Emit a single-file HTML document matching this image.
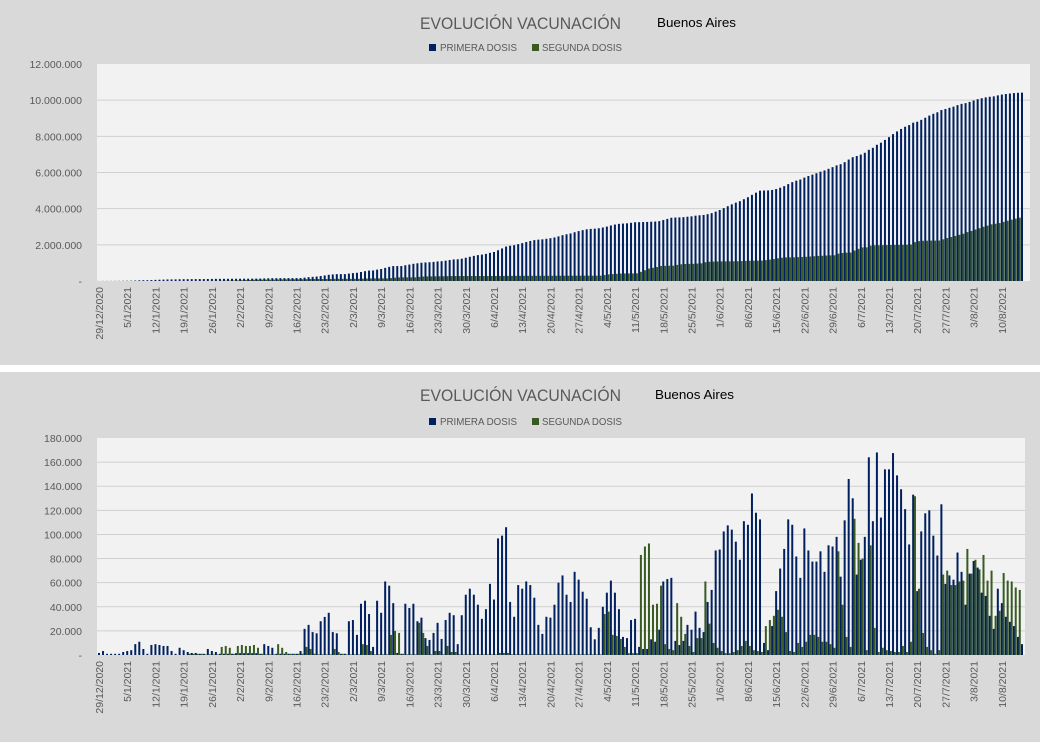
<!DOCTYPE html>
<html><head><meta charset="utf-8"><style>
html,body{margin:0;padding:0;background:#fff;}
svg{display:block;font-family:"Liberation Sans",sans-serif;}
</style></head><body>
<svg id="svg" width="1044" height="742" viewBox="0 0 1044 742"></svg>
<script>
// Daily doses (thousands), 29/12/2020 .. 15/8/2021
const primeraDaily=[1.7,3.3,1,1,1,1,2.5,3.3,4,9,11,5,1,8.3,9,8.3,7.5,7.5,3.3,1,6,4,2.5,1.7,1.7,1,1,5,3.3,2.5,
1,1,1,1,1.5,1.5,1.5,1.5,1.5,1.5,1,9,7.5,6,1,1,1,1,1,1,3.3,21.7,25,19,18,28,31.6,35,
19,18,1,1,28,29,16.7,42.5,45,34,6.7,45,35,61,57.5,43,1.7,1,42.5,39,42.5,28,31,14,12.5,18.3,26.7,13.3,29,35,33,9,33,50,55,50,41.7,30,38,59,46,96.7,99,106,44,31.7,58,55,61,58,47.5,25,17.5,31.7,31,41.7,60,
66,50,44,69,62.5,52.5,46.7,23,13,22.5,40,51.7,61.7,51.7,38,15,14,29,30,6.7,5,5,13,11,21,61,63,64,11.7,8.3,11.7,25,21,36,22.5,19,44,54,86.7,87.5,102.5,107.5,104,94,79,111,108,134,118,112.5,10,4,24,53,71.7,88,112.5,
108,81.7,64,105,86.7,77.5,77.5,86,69,91,90,98,65,111.7,146,130,66.7,79,98,164,111,168,114,154,154,167.5,149,137.5,121,91.7,133,53,102.5,117.5,120,99,82.5,125,59,66,62.5,85,69,41.7,67.5,78,72.5,51.7,49,32.5,21.7,55,43,31.7,27.5,24,15,9];
const segundaDaily=[0,0,0,0,0,0,0,0,0,0,0,0,0,0,0,0,0,0,0,0,0,0,1,1,1,1,0.5,0.5,0.5,0.5,
6.7,7.5,6,1,7.5,8.3,7.5,7.5,8.3,6,1,0.5,0.5,0.5,9,6,2.5,1,1,1,1,6.7,5,1,0.5,0.5,0.5,0.5,
5,2.5,1,0.5,0.5,0.5,0.5,9,8.3,3.3,0.5,0.5,0.5,0.5,16.7,20,18.3,1,0.5,0.5,0.5,26.7,18.3,7.5,0.5,3.3,3.3,0.5,7.5,2.5,2.5,0.5,0.5,0.5,0.5,0.5,0.5,0.5,0.5,0.5,0.5,1.7,1.7,1.7,0.5,0.5,0.5,0.5,0.5,0.5,0.5,0.5,0.5,0.5,0.5,0.5,0.5,
0.5,0.5,0.5,0.5,0.5,0.5,0.5,0.5,0.5,0.5,34,36,16.7,15.8,13.3,6.7,1.5,1.5,1.5,83,90,92.5,41.7,42.5,57.5,9,5,4,43,31.7,17.5,7.5,2.5,14,14,61,26,10,6,3.3,1.5,1.5,2.5,4,7.5,11.7,7.5,4,3.3,2.5,24,29,32.5,37.5,31.7,19,
3.3,2.5,10,6.7,11,16.7,16.7,15,11,11,9,6,86,41.7,15,6.7,113,93,80,4,91,22.5,2.5,6,4,3.3,2.5,2.5,7.5,2.5,11,131.7,55,18.3,6.7,4,1,4,66.7,70,58,58,61,61.7,88,67.5,79,71,83,61.7,70,32.5,36.7,68,61.7,61,56,54];
const yTicksDaily=["180.000","160.000","140.000","120.000","100.000","80.000","60.000","40.000","20.000","-"];
const yTicksCum=["12.000.000","10.000.000","8.000.000","6.000.000","4.000.000","2.000.000","-"];
const startDate=[2020,11,29];

const NS="http://www.w3.org/2000/svg";
const svg=document.getElementById('svg');
function mk(tag,attrs,parent){const e=document.createElementNS(NS,tag);for(const k in attrs)e.setAttribute(k,attrs[k]);(parent||svg).appendChild(e);return e;}
const N=primeraDaily.length;
const cumP=[],cumS=[];let a=0,b=0;
for(let i=0;i<N;i++){a+=primeraDaily[i]*1000;b+=segundaDaily[i]*1000;cumP.push(a);cumS.push(b);}
const labels=[];
for(let i=0;i<N;i++){const d=new Date(startDate[0],startDate[1],startDate[2]+i);labels.push(d.getDate()+"/"+(d.getMonth()+1)+"/"+d.getFullYear());}

function chart(o){
  const g=mk('g',{});
  
  
  const bg=mk('rect',{x:0,y:o.py,width:1040,height:o.ph,fill:'#d9d9d9'},g);
  
  
  const pa=mk('rect',{x:97,y:o.top,width:o.right-97,height:o.base-o.top,fill:'#f2f2f2'},g);
  
  
  const yv=v=>o.base-(v/o.max)*(o.base-o.top);
  const xv=i=>99+i*(1022-99)/(N-1);
  const nt=o.ticks.length;
  o.ticks.forEach((t,k)=>{
    const y=o.top+k*(o.base-o.top)/(nt-1);
    if(k>0&&k<nt-1){const l=mk('line',{x1:97,x2:o.right,y1:y,y2:y,stroke:'#d0d0d0','stroke-width':1},g);
      
      }
    const tx=mk('text',{x:82,y:y+4,'text-anchor':'end','font-size':10.5,fill:'#595959'},g);
    tx.textContent=t;
    
    
  });
  for(let i=0;i<N;i++){
    const vp=o.p[i],vs=o.s[i];
    const r1=mk('rect',{x:xv(i)-1,y:yv(vp),width:2,height:o.base-yv(vp),fill:'#002060'},g);
    
    
    const r2=mk('rect',{x:xv(i)+0.8,y:yv(vs),width:2,height:o.base-yv(vs),fill:'#3a5a24'},g);
    
    
  }
  for(let i=0;i<N;i+=7){
    const x=xv(i)+4;
    const tx=mk('text',{x:x,y:o.base+6,transform:`rotate(-90 ${x} ${o.base+6})`,'text-anchor':'end','font-size':10.5,fill:'#595959'},g);
    tx.textContent=labels[i];
    
    
  }
  const ti=mk('text',{x:420,y:o.py+29,'font-size':17,fill:'#595959',textLength:201,lengthAdjust:'spacingAndGlyphs'},g);
  ti.textContent='EVOLUCIÓN VACUNACIÓN';
  
  
  const ba=mk('text',{x:o.bax,y:o.py+27,'font-size':13,fill:'#000',textLength:79,lengthAdjust:'spacingAndGlyphs'},g);
  ba.textContent='Buenos Aires';
  
  
  const ly=o.py+o.legy;
  const s1=mk('rect',{x:429,y:ly-7,width:7,height:7,fill:'#002060'},g);
  
  
  const t1=mk('text',{x:440,y:ly,'font-size':10,fill:'#595959',textLength:77,lengthAdjust:'spacingAndGlyphs'},g);t1.textContent='PRIMERA DOSIS';
  
  
  const s2=mk('rect',{x:532,y:ly-7,width:7,height:7,fill:'#3a5a24'},g);
  
  
  const t2=mk('text',{x:542,y:ly,'font-size':10,fill:'#595959',textLength:80,lengthAdjust:'spacingAndGlyphs'},g);t2.textContent='SEGUNDA DOSIS';
  
  
}
chart({name:'cumulative-chart',py:0,ph:365,top:64,base:281,right:1030,max:12000000,ticks:yTicksCum,p:cumP,s:cumS,bax:657,legy:51});
chart({name:'daily-chart',py:372,ph:370,top:438,base:655,right:1025,max:180000,ticks:yTicksDaily,p:primeraDaily.map(v=>v*1000),s:segundaDaily.map(v=>v*1000),bax:655,legy:53});
</script>
</body></html>
